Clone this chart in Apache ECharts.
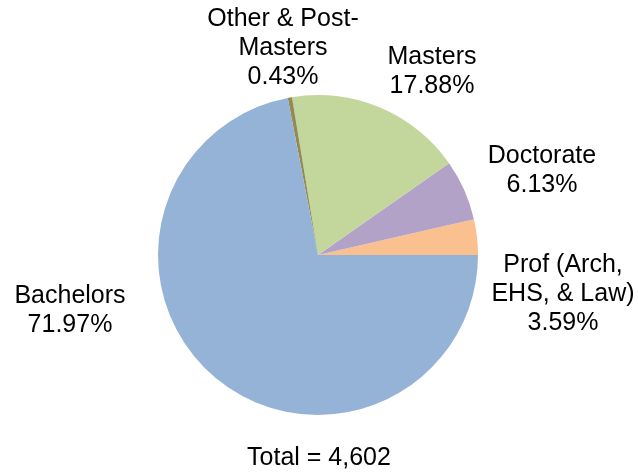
<!DOCTYPE html>
<html><head><meta charset="utf-8">
<script src="https://cdn.jsdelivr.net/npm/echarts@6/dist/echarts.min.js"></script>
<style>html,body{margin:0;padding:0;background:#fff}#c{width:638px;height:472px}</style>
</head><body><div id="c"></div>
<script>
var categories = ['Prof (Arch,\nEHS, & Law)', 'Doctorate', 'Masters', 'Other & Post-\nMasters', 'Bachelors'];
var percents = [3.59, 6.13, 17.88, 0.43, 71.97];
var colors = ['#FAC090', '#B3A2C7', '#C3D69B', '#948A54', '#95B3D7'];
var totalText = 'Total = 4,602';
// label centre positions (px) for each slice label
var labelCenters = [[563, 294], [542, 171], [432, 72], [283, 48], [70, 311]];

var chart = echarts.init(document.getElementById('c'));
chart.setOption({
  animation: false,
  textStyle: {fontFamily: 'Liberation Sans, Arial, sans-serif'},
  title: {
    text: totalText, left: 'center', top: 441,
    textStyle: {fontFamily: 'Liberation Sans, Arial, sans-serif', fontSize: 25, fontWeight: 'normal', color: '#000'}
  },
  series: [{
    type: 'pie',
    center: [318, 255],
    radius: 160,
    startAngle: 0,
    clockwise: false,
    avoidLabelOverlap: false,
    data: categories.map(function (c, i) {
      return {name: c, value: percents[i], itemStyle: {color: colors[i]}};
    }),
    itemStyle: {borderWidth: 0},
    label: {
      show: true,
      position: 'outside',
      formatter: function (p) { return p.name + '\n' + p.value.toFixed(2) + '%'; },
      fontSize: 25,
      lineHeight: 29,
      color: '#000',
      align: 'center',
      fontFamily: 'Liberation Sans, Arial, sans-serif'
    },
    labelLine: {show: false},
    labelLayout: function (params) {
      var p = labelCenters[params.dataIndex];
      return {x: p[0], y: p[1], align: 'center', verticalAlign: 'middle'};
    }
  }]
});
</script></body></html>
